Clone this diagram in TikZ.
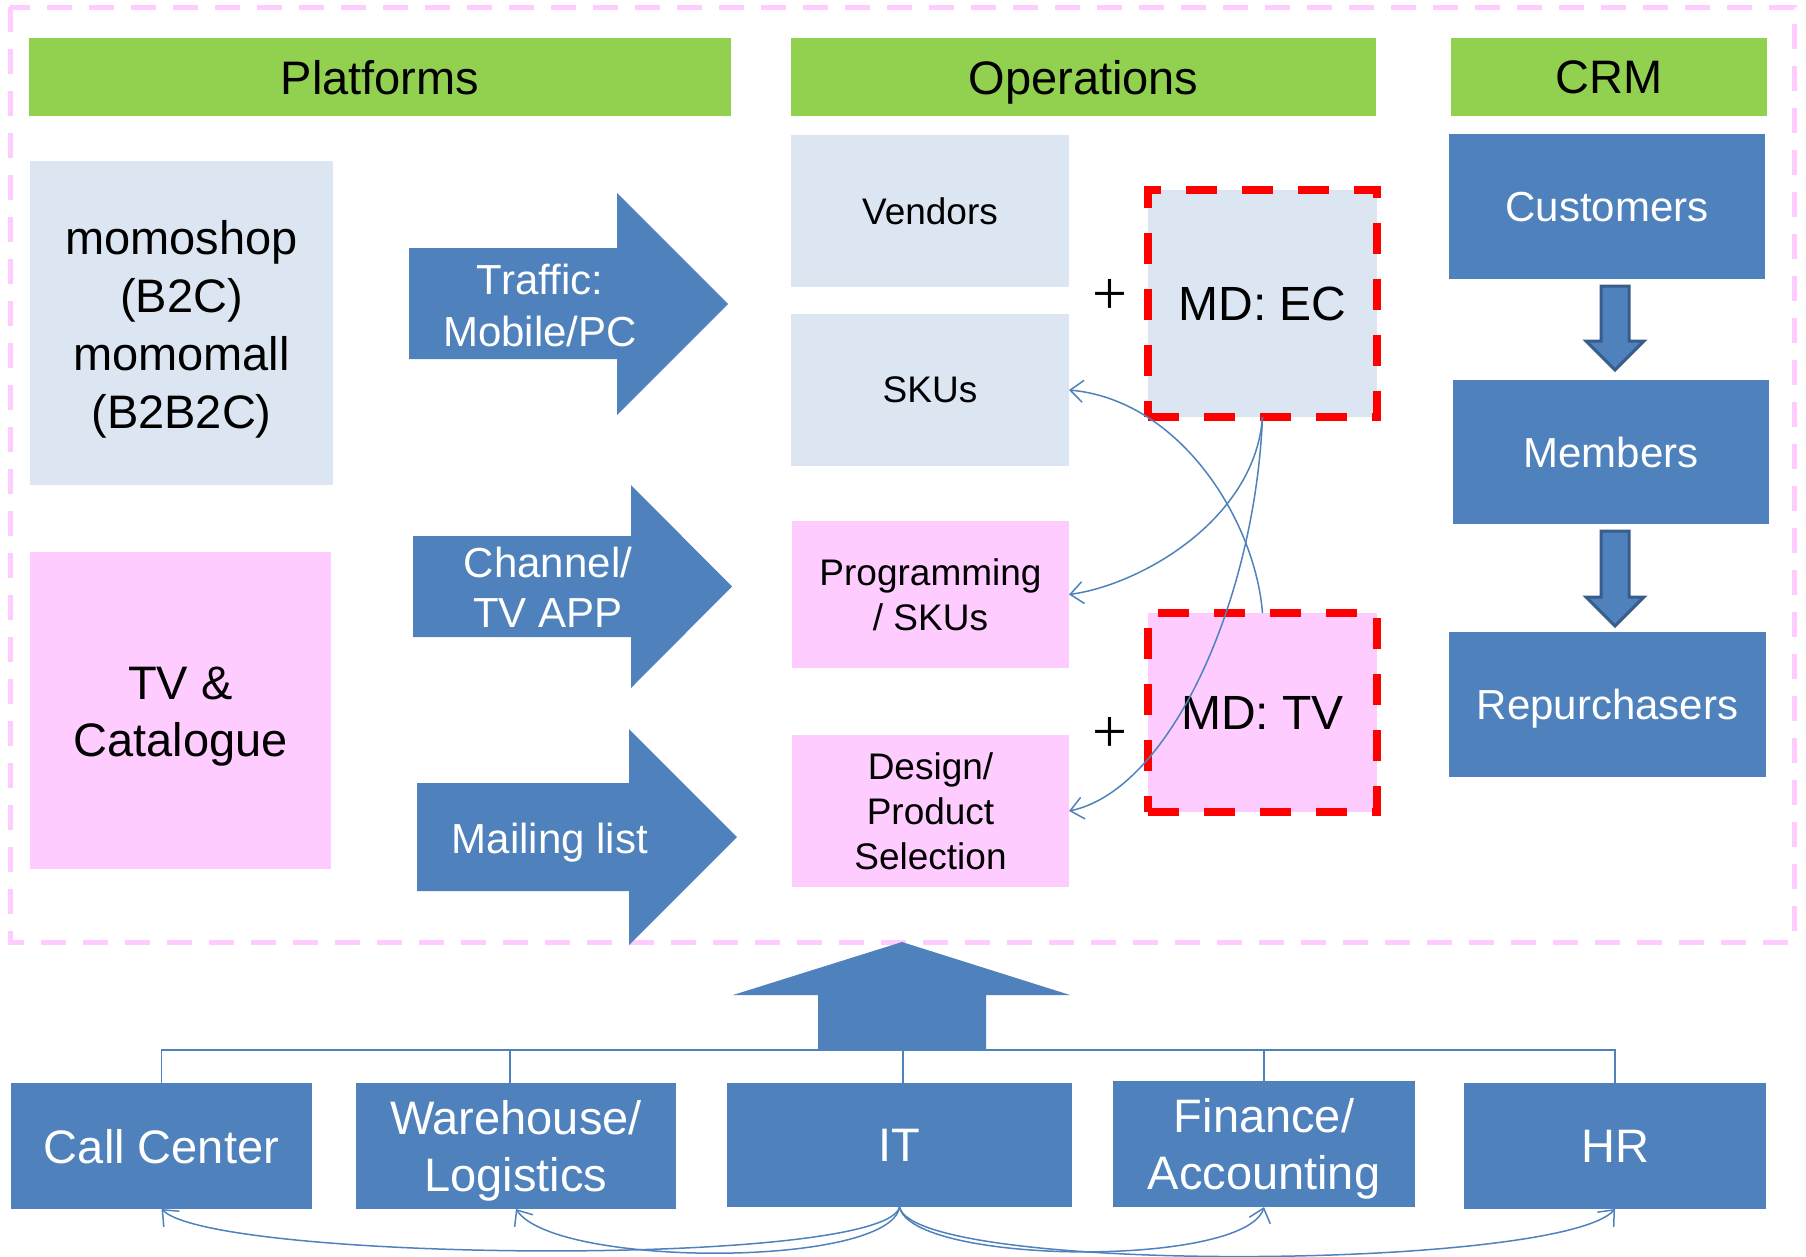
\documentclass[tikz,border=0pt]{standalone}
\usepackage{fontspec}
\setmainfont{Liberation Sans}
\newfontfamily\plusfont{Liberation Serif}
\usetikzlibrary{arrows.meta,calc}
\definecolor{hgreen}{HTML}{92D050}
\definecolor{lblue}{HTML}{DCE6F2}
\definecolor{lpink}{HTML}{FFCCFF}
\definecolor{mblue}{HTML}{4F81BD}
\definecolor{dblue}{HTML}{385D8A}
\definecolor{dred}{HTML}{FF0000}
\begin{document}
\begin{tikzpicture}[x=1pt,y=-1pt,
  box/.style={rectangle, inner sep=0pt, outer sep=0pt, align=center},
  oneline/.style={text depth=0pt},
  header/.style={box, oneline, fill=hgreen, text=black, minimum height=78pt, font=\fontsize{47}{56}\selectfont},
  lbbox/.style={box, fill=lblue, text=black},
  pkbox/.style={box, fill=lpink, text=black},
  sdbox/.style={box, fill=mblue, text=white},
  mdbox/.style={box, oneline, draw=dred, line width=7.5pt, dash pattern=on 31pt off 25pt, text=black, font=\fontsize{48}{58}\selectfont},
  arrowtext/.style={text=white, align=center, inner sep=0pt, font=\fontsize{42}{52}\selectfont},
  link/.style={draw=mblue, line width=1.5pt, -{Straight Barb[length=13pt,width=22pt]}},
  tree/.style={draw=mblue, line width=1.7pt},
  crmarrow/.style={fill=mblue, draw=dblue, line width=3pt},
  blockarrow/.style={fill=mblue},
  plus/.style={inner sep=0pt, font=\plusfont\fontsize{62}{62}\selectfont}
]
\useasboundingbox (0,0) rectangle (1806,1256);

% outer dashed frame
\draw[lpink, line width=5pt, dash pattern=on 25pt off 17pt] (10,7) rectangle (1794,942);

% headers
\node[header, minimum width=702pt] (hplat) at (380,77) {Platforms};
\node[header, minimum width=585pt] (hops) at (1083.5,77) {Operations};
\node[header, minimum width=316pt] (hcrm) at (1609,77) {CRM};

% platforms column
\node[lbbox, minimum width=303pt, minimum height=324pt] (momo) at (181.5,323) {};
\node[text=black, align=center, inner sep=0pt, font=\fontsize{47}{58}\selectfont] (momotext) at (181.5,329) {momoshop\\(B2C)\\momomall\\(B2B2C)};
\node[pkbox, minimum width=301pt, minimum height=317pt] (tvcat) at (180.5,710.5) {};
\node[text=black, align=center, inner sep=0pt, font=\fontsize{47}{57}\selectfont] (tvcattext) at (180.5,716.5) {TV \&\\Catalogue};

% block arrows
\fill[blockarrow] (409,248) -- (617,248) -- (617,193) -- (728,304) -- (617,415) -- (617,359) -- (409,359) -- cycle;
\node[arrowtext] (traffic) at (540,305) {Traffic:\\Mobile/PC};
\fill[blockarrow] (413,536) -- (631,536) -- (631,485) -- (732,586.5) -- (631,688) -- (631,637) -- (413,637) -- cycle;
\node[arrowtext, font=\fontsize{42}{50}\selectfont] (channel) at (548,587) {Channel/\\TV APP};
\fill[blockarrow] (417,783) -- (629,783) -- (629,729) -- (737,837) -- (629,945) -- (629,891) -- (417,891) -- cycle;
\node[arrowtext, oneline] (mailing) at (550,838) {Mailing list};

% operations column
\node[lbbox, oneline, minimum width=278pt, minimum height=152pt, font=\fontsize{37}{45}\selectfont] (vendors) at (930,211) {Vendors};
\node[lbbox, oneline, minimum width=278pt, minimum height=152pt, font=\fontsize{37}{45}\selectfont] (skus) at (930,390) {SKUs};
\node[pkbox, minimum width=277pt, minimum height=147pt, font=\fontsize{37}{45}\selectfont] (prog) at (930.5,594.5) {Programming\\/ SKUs};
\node[pkbox, minimum width=277pt, minimum height=152pt, font=\fontsize{37}{45}\selectfont] (design) at (930.5,811) {Design/\\Product\\Selection};

\node[plus] (plus1) at (1110,297) {+};
\node[plus] (plus2) at (1110,735) {+};

\node[mdbox, fill=lblue, minimum width=229pt, minimum height=227pt] (mdec) at (1262.5,303.5) {MD: EC};
\node[mdbox, fill=lpink, minimum width=229pt, minimum height=199pt] (mdtv) at (1262.5,712.5) {MD: TV};

% CRM column
\node[sdbox, oneline, minimum width=316pt, minimum height=145pt, font=\fontsize{42}{50}\selectfont] (cust) at (1607,206.5) {Customers};
\node[sdbox, oneline, minimum width=316pt, minimum height=144pt, font=\fontsize{42}{50}\selectfont] (memb) at (1611,452) {Members};
\node[sdbox, oneline, minimum width=317pt, minimum height=145pt, font=\fontsize{42}{50}\selectfont] (rep) at (1607.5,704.5) {Repurchasers};
\filldraw[crmarrow] (1601,286) -- (1629,286) -- (1629,341) -- (1644,341) -- (1615,370) -- (1586,341) -- (1601,341) -- cycle;
\filldraw[crmarrow] (1601,531) -- (1629,531) -- (1629,597) -- (1644,597) -- (1615,626) -- (1586,597) -- (1601,597) -- cycle;

% big up arrow
\fill[blockarrow] (818,1050) -- (818,995) -- (733,995) -- (902,942) -- (1070,995) -- (986,995) -- (986,1050) -- cycle;
\coordinate (bus) at (903,1050);

% bottom boxes
\node[sdbox, oneline, minimum width=301pt, minimum height=126pt, font=\fontsize{47}{57}\selectfont] (cc) at (161.5,1146) {Call Center};
\node[sdbox, minimum width=320pt, minimum height=126pt] (wh) at (516,1146) {};
\node[text=white, align=center, inner sep=0pt, font=\fontsize{47}{57}\selectfont] (whtext) at (516,1151) {Warehouse/\\Logistics};
\node[sdbox, oneline, minimum width=345pt, minimum height=124pt, font=\fontsize{47}{57}\selectfont] (it) at (899.5,1145) {IT};
\node[sdbox, minimum width=302pt, minimum height=126pt] (fin) at (1264,1144) {};
\node[text=white, align=center, inner sep=0pt, font=\fontsize{47}{57}\selectfont] (fintext) at (1264,1149) {Finance/\\Accounting};
\node[sdbox, oneline, minimum width=302pt, minimum height=126pt, font=\fontsize{47}{57}\selectfont] (hr) at (1615,1146) {HR};

% tree connector
\draw[tree] (cc.north) -- (cc.north |- bus) -- (hr.north |- bus) -- (hr.north);
\draw[tree] ($(wh.north)+(-6,0)$) coordinate (whtop) -- (whtop |- bus);
\draw[tree] ($(it.north)+(3.5,0)$) coordinate (ittop) -- (ittop |- bus);
\draw[tree] (fin.north) -- (fin.north |- bus);

% curved links (operations)
\draw[link] (mdtv.north) .. controls (1255,520) and (1180,400) .. (skus.east);
\draw[link] (mdec.south) .. controls (1255,520) and (1140,585) .. (prog.east);
\draw[link] (mdec.south) .. controls (1255,600) and (1170,790) .. (design.east);

% curved links (bottom)
\draw[link] (it.south) .. controls (885,1268) and (215,1262) .. (cc.south);
\draw[link] (it.south) .. controls (890,1268) and (555,1268) .. (wh.south);
\draw[link] (it.south) .. controls (912,1265) and (1245,1268) .. (fin.south);
\draw[link] (it.south) .. controls (915,1275) and (1560,1270) .. (hr.south);
\end{tikzpicture}
\end{document}
